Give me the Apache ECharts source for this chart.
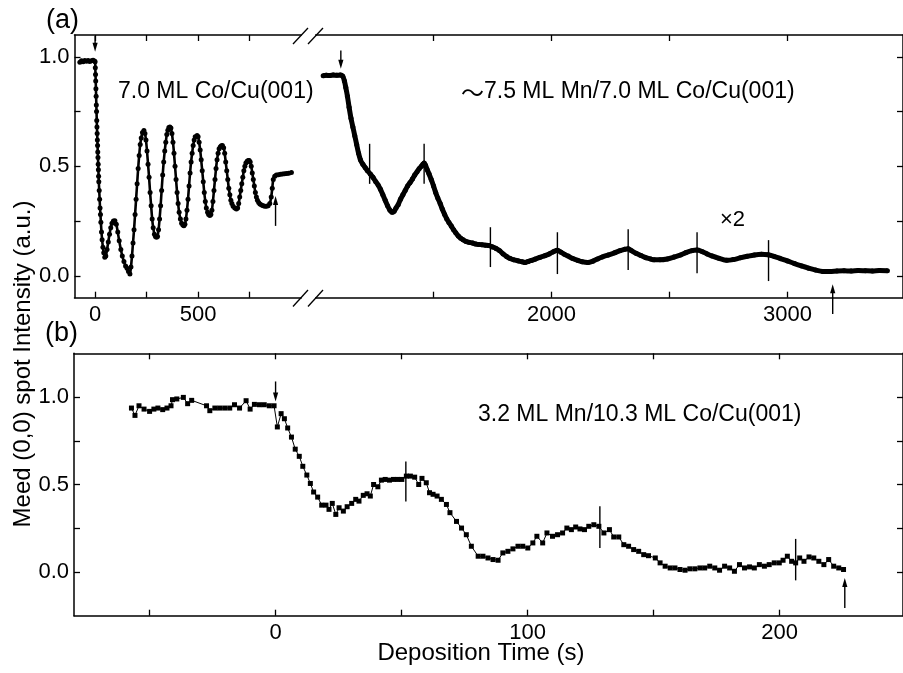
<!DOCTYPE html>
<html><head><meta charset="utf-8">
<script src="https://cdn.jsdelivr.net/npm/echarts@6/dist/echarts.min.js"></script>
<style>html,body{margin:0;padding:0;background:#fff}#c{width:903px;height:673px}</style>
</head><body><div id="c"></div>
<script>
// ---------- Panel (a), left part: 7.0 ML Co/Cu(001) ----------
const coTime = [-74,-66,-58,-50,-42,-34,-26,-18,-10,-3,0,1,2,3,4,5,6,7,8,9,10,11,12,13,14,15,16,17,18,20,22,24,26,28,31,34,38,42,47,
52,58,64,70,76,82,89,96,103,110,117,125,132,140,148,155,162,169,174,179,184,189,194,199,204,209,214,219,224,230,237,
242,247,252,257,262,267,272,277,282,288,293,298,303,308,313,318,323,328,333,338,343,348,353,358,363,
368,373,378,383,388,393,398,403,408,414,420,426,431,436,441,446,451,456,461,466,471,476,481,486,495,
500,505,510,515,520,525,530,535,540,546,551,557,562,567,572,577,582,587,592,597,602,608,613,618,
624,629,634,639,644,649,654,659,664,670,678,686,692,697,702,707,712,717,722,727,732,738,743,748,
753,758,763,768,773,778,783,788,794,800,808,816,824,832,840,848,855,860,865,872,880,890,900,910,920,930,940,953];
const coInt = [0.975,0.982,0.978,0.983,0.980,0.984,0.979,0.982,0.985,0.981,0.978,0.95,0.92,0.89,0.855,0.82,0.78,0.75,0.71,0.68,0.65,0.62,0.595,0.565,0.54,0.51,0.485,0.455,0.43,0.39,0.35,0.31,0.28,0.245,0.20,0.165,0.13,0.105,0.085,
0.09,0.12,0.155,0.19,0.22,0.24,0.25,0.252,0.235,0.20,0.16,0.12,0.09,0.065,0.045,0.035,0.02,0.008,0.04,0.09,0.15,0.21,0.28,0.35,0.42,0.49,0.55,0.60,0.63,0.655,0.664,
0.65,0.62,0.57,0.51,0.45,0.38,0.32,0.26,0.22,0.19,0.18,0.176,0.18,0.21,0.26,0.32,0.39,0.46,0.52,0.57,0.61,0.645,0.665,0.677,0.68,
0.675,0.65,0.61,0.56,0.50,0.44,0.38,0.33,0.29,0.26,0.24,0.232,0.229,0.235,0.26,0.30,0.35,0.41,0.47,0.52,0.56,0.595,0.62,0.635,0.641,
0.635,0.61,0.575,0.53,0.48,0.43,0.38,0.34,0.31,0.29,0.28,0.275,0.28,0.30,0.34,0.39,0.44,0.49,0.53,0.56,0.58,0.59,0.594,0.595,
0.585,0.56,0.52,0.48,0.44,0.40,0.37,0.345,0.33,0.318,0.31,0.305,0.31,0.33,0.36,0.39,0.42,0.45,0.48,0.50,0.515,0.523,0.527,0.527,
0.52,0.50,0.47,0.44,0.41,0.38,0.36,0.345,0.335,0.328,0.323,0.32,0.318,0.318,0.32,0.33,0.36,0.40,0.44,0.455,0.46,0.462,0.464,0.465,0.466,0.467,0.469,0.472];

// ---------- Panel (a), right part: ~7.5 ML Mn/7.0 ML Co/Cu(001) ----------
const mnTime = [1032,1045,1060,1075,1090,1105,1115,1122,1128,1135,1142,1150,1158,1166,1174,1182,1190,1200,1210,1220,1232,1243,1255,1265,1275,1285,1295,1305,1315,1324,1333,1341,1350,1360,1370,1380,1390,1400,1411,1420,1430,1439,1448,1455,1460,1466,1473,1481,1490,1500,1509,1518,1528,1537,1547,1556,1565,1575,1585,1594,1605,1615,1625,1638,1650,1665,1680,1692,1705,1720,1735,1750,1765,1780,1795,1810,1825,1840,1860,1875,1888,1900,1915,1930,1950,1972,1990,2008,2025,2040,2055,2070,2090,2112,2130,2154,2175,2195,2215,2240,2267,2290,2310,2325,2340,2360,2379,2400,2420,2435,2460,2491,2520,2547,2570,2595,2617,2640,2660,2680,2710,2743,2770,2800,2830,2860,2890,2918,2945,2970,3000,3030,3060,3090,3120,3150,3180,3210,3240,3270,3300,3330,3360,3390,3424];
const mnInt = [0.914,0.916,0.915,0.917,0.916,0.917,0.912,0.89,0.86,0.82,0.77,0.72,0.68,0.64,0.60,0.56,0.53,0.51,0.495,0.48,0.465,0.45,0.43,0.415,0.395,0.37,0.345,0.32,0.30,0.29,0.295,0.31,0.325,0.35,0.37,0.39,0.41,0.425,0.443,0.46,0.475,0.489,0.50,0.51,0.515,0.505,0.485,0.465,0.44,0.41,0.38,0.355,0.33,0.305,0.28,0.26,0.244,0.228,0.21,0.197,0.182,0.172,0.165,0.157,0.153,0.15,0.145,0.143,0.142,0.14,0.138,0.132,0.125,0.115,0.10,0.088,0.079,0.073,0.068,0.064,0.061,0.065,0.07,0.076,0.084,0.092,0.10,0.11,0.117,0.108,0.098,0.09,0.079,0.07,0.064,0.061,0.067,0.077,0.086,0.095,0.105,0.115,0.121,0.124,0.114,0.102,0.093,0.083,0.077,0.073,0.073,0.077,0.086,0.095,0.106,0.115,0.118,0.11,0.10,0.091,0.08,0.071,0.074,0.082,0.089,0.095,0.098,0.096,0.088,0.079,0.068,0.056,0.045,0.035,0.026,0.02,0.02,0.022,0.023,0.022,0.024,0.023,0.022,0.024,0.023];

// ---------- Panel (b): 3.2 ML Mn/10.3 ML Co/Cu(001) ----------
const bTime = [-57.2,-55.8,-54.2,-52.2,-50.0,-48.3,-46.7,-44.8,-43.1,-41.5,-40.9,-39.2,-36.6,-34.9,-33.3,-27.4,-26.1,-24.1,-22.2,-20.2,-18.2,-16.3,-14.3,-11.7,-10.1,-8.4,-6.4,-4.5,-2.5,-0.6,
0.7,2.2,3.5,4.8,6.3,7.8,9.4,10.8,12.4,13.8,15.1,16.7,18.3,20.0,21.2,22.5,23.9,25.2,26.9,28.4,30.2,31.8,33.1,34.8,36.3,37.6,38.9,40.6,42.0,43.5,45.2,46.8,48.5,50.1,51.9,53.5,55.2,56.8,58.1,59.8,61.1,62.5,64.1,65.8,67.8,
69.2,71.8,73.8,75.7,77.7,80.4,82.3,84.3,86.3,88.3,90.2,92.2,94.2,96.2,98.1,100.1,102.1,103.7,106.0,107.7,109.9,111.9,113.9,115.6,117.4,119.1,120.8,122.6,124.3,126.3,128.3,130.3,132.5,134.2,136.2,138.2,140.1,142.1,144.1,146.1,148.0,150.7,152.6,154.6,156.6,158.5,160.5,162.5,164.4,166.4,168.4,170.3,172.3,174.3,176.2,178.2,180.2,182.1,184.1,186.1,188.1,190.0,192.0,194.0,195.9,197.9,199.9,201.4,203.1,204.8,206.4,208.0,209.7,211.7,213.6,215.6,217.6,219.5,221.5,223.5,225.4];
const bInt = [0.937,0.895,0.950,0.931,0.918,0.931,0.937,0.928,0.937,0.950,0.985,0.989,0.998,0.962,0.981,0.950,0.922,0.937,0.937,0.937,0.937,0.956,0.937,0.979,0.931,0.958,0.956,0.956,0.950,0.950,
0.829,0.905,0.876,0.823,0.771,0.702,0.661,0.604,0.554,0.506,0.457,0.428,0.382,0.382,0.358,0.392,0.329,0.367,0.348,0.373,0.392,0.415,0.405,0.438,0.447,0.434,0.500,0.487,0.525,0.529,0.525,0.529,0.529,0.529,0.548,0.548,0.542,0.500,0.535,0.510,0.453,0.444,0.434,0.415,0.386,
0.339,0.289,0.251,0.213,0.147,0.090,0.090,0.080,0.071,0.067,0.109,0.118,0.132,0.147,0.147,0.137,0.166,0.204,0.166,0.223,0.204,0.213,0.223,0.251,0.242,0.257,0.246,0.242,0.261,0.270,0.261,0.223,0.242,0.200,0.200,0.156,0.147,0.128,0.118,0.099,0.093,0.080,0.052,0.033,0.023,0.023,0.014,0.010,0.018,0.018,0.023,0.023,0.033,0.023,0.010,0.033,0.023,0.004,0.042,0.023,0.029,0.023,0.042,0.033,0.042,0.052,0.052,0.067,0.090,0.061,0.052,0.080,0.061,0.086,0.080,0.061,0.042,0.071,0.033,0.023,0.014];

// ---------- Annotation marks: [time, from, to, isArrow] ----------
const aLeftMarks = [[0,1.097,1.024,1],[876,0.228,0.365,1]];
const aRightMarks = [[1107,1.029,0.946,1],[3192,-0.175,-0.038,1],[1229,0.42,0.603,0],[1460,0.42,0.603,0],[1741,0.04,0.222,0],[2025,0.008,0.199,0],[2325,0.026,0.213,0],[2617,0.012,0.199,0],[2920,-0.024,0.163,0]];
const bMarks = [[0,1.089,0.975,1],[51.7,0.403,0.632,0],[128.7,0.137,0.375,0],[206.4,-0.048,0.189,0],[225.9,-0.206,-0.034,1]];

// ---------- Ticks ----------
const aLeftTicks = [0,250,500,750], aLeftLabels = [0,500];
const aRightTicks = [1500,2000,2500,3000], aRightLabels = [2000,3000];
const aYTicks = [0,0.25,0.5,0.75,1.0], aYLabels = [0,0.5,1.0];
const bXTicks = [-50,0,50,100,150,200], bXLabels = [0,100,200];
const bYTicks = [0,0.25,0.5,0.75,1.0], bYLabels = [0,0.5,1.0];

const FONT = 'Liberation Sans, Arial, Helvetica, sans-serif';
const zip = (a,b) => a.map((v,i)=>[v,b[i]]);
const lineStyle = {color:'#000', width:1.5};

function xAx(grid, min, max, ticks, labels, pos){
  return {type:'value', gridIndex:grid, min, max, position:pos,
    axisLine:{show:true, onZero:false, lineStyle},
    axisTick:{show:true, inside:true, length:6, customValues:ticks, lineStyle:{color:'#000',width:1.3}},
    axisLabel:{show:!!labels, customValues:labels||[], color:'#000', fontFamily:FONT, fontSize:22, margin:6, formatter:v=>String(v)},
    splitLine:{show:false}};
}
function yAx(grid, min, max, ticks, labels, pos){
  return {type:'value', gridIndex:grid, min, max, position:pos,
    axisLine:{show:true, onZero:false, lineStyle},
    axisTick:{show:true, inside:true, length:6, customValues:ticks, lineStyle:{color:'#000',width:1.3}},
    axisLabel:{show:!!labels, customValues:labels||[], color:'#000', fontFamily:FONT, fontSize:22, margin:5, formatter:v=>v.toFixed(1)},
    splitLine:{show:false}};
}
function renderMark(params, api){
  const x = api.value(0), y1 = api.value(1), y2 = api.value(2), arrow = api.value(3);
  const p1 = api.coord([x,y1]), p2 = api.coord([x,y2]);
  const dir = p2[1] > p1[1] ? 1 : -1;
  const hl = 9, hw = 2.6;
  const ch = [{type:'line', shape:{x1:p1[0],y1:p1[1],x2:p2[0],y2: arrow ? p2[1]-dir*hl*0.7 : p2[1]}, style:{stroke:'#000', lineWidth:1.4}}];
  if (arrow) ch.push({type:'polygon', shape:{points:[[p2[0],p2[1]],[p2[0]-hw,p2[1]-dir*hl],[p2[0]+hw,p2[1]-dir*hl]]}, style:{fill:'#000'}});
  return {type:'group', children:ch};
}
function markSeries(data, xi, yi){
  return {type:'custom', xAxisIndex:xi, yAxisIndex:yi, clip:false, silent:true, z:5,
    dimensions:['x','a','b','arrow'], encode:{x:0, y:[1,2]}, renderItem:renderMark, data};
}

const chart = echarts.init(document.getElementById('c'), null, {renderer:'canvas'});
const txt = (text, x, y, size, extra) => Object.assign({type:'text', x, y, style:Object.assign({text, fontFamily:FONT, fontSize:size, fill:'#000', textVerticalAlign:'middle'}, extra||{})});
const slash = (x1,y1,x2,y2) => ({type:'line', shape:{x1,y1,x2,y2}, style:{stroke:'#000', lineWidth:1.3}});

chart.setOption({
  animation:false,
  backgroundColor:'#fff',
  grid:[
    {left:74.5, top:35, width:226.6, height:262.7},
    {left:315.6, top:35, width:592.4, height:262.7},
    {left:74, top:353.3, width:834, height:262.4}
  ],
  xAxis:[
    xAx(0,-100,1000,aLeftTicks,aLeftLabels,'bottom'),
    xAx(0,-100,1000,aLeftTicks,null,'top'),
    xAx(1,1000,3490,aRightTicks,aRightLabels,'bottom'),
    xAx(1,1000,3490,aRightTicks,null,'top'),
    xAx(2,-80,249,bXTicks,bXLabels,'bottom'),
    xAx(2,-80,249,bXTicks,null,'top')
  ],
  yAxis:[
    yAx(0,-0.1,1.1,aYTicks,aYLabels,'left'),
    yAx(1,-0.1,1.1,aYTicks,null,'right'),
    yAx(2,-0.25,1.25,bYTicks,bYLabels,'left'),
    yAx(2,-0.25,1.25,bYTicks,null,'right')
  ],
  series:[
    {type:'line', xAxisIndex:0, yAxisIndex:0, data:zip(coTime,coInt), smooth:0.3, symbol:'circle', symbolSize:5,
      lineStyle:{color:'#000', width:2.6}, itemStyle:{color:'#000'}},
    {type:'line', xAxisIndex:2, yAxisIndex:1, data:zip(mnTime,mnInt), smooth:0.3, symbol:'circle', symbolSize:5,
      lineStyle:{color:'#000', width:5}, itemStyle:{color:'#000'}},
    {type:'line', xAxisIndex:4, yAxisIndex:2, data:zip(bTime,bInt), symbol:'rect', symbolSize:5,
      lineStyle:{color:'#000', width:1}, itemStyle:{color:'#000'}},
    markSeries(aLeftMarks,0,0),
    markSeries(aRightMarks,2,1),
    markSeries(bMarks,4,2)
  ],
  graphic:[
    slash(293,44,308,28), slash(308,44,323,28),
    slash(293,306.5,308,290), slash(308,306.5,323,290),
    txt('(a)', 46, 21, 27),
    txt('(b)', 45, 334, 27),
    txt('7.0 ML Co/Cu(001)', 118, 92, 23),
    txt('{t|\uFF5E}7.5 ML Mn/7.0 ML Co/Cu(001)', 461, 92, 23, {rich:{t:{fontFamily:'Noto Sans CJK SC', fontSize:23, fill:'#000'}}}),
    txt('\u00D72', 720, 220, 22),
    txt('3.2 ML Mn/10.3 ML Co/Cu(001)', 478, 415, 23),
    txt('Deposition Time (s)', 481, 653, 24, {textAlign:'center'}),
    {type:'text', x:23, y:364, rotation:Math.PI/2, style:{text:'Meed (0,0) spot Intensity (a.u.)', fontFamily:FONT, fontSize:24, fill:'#000', textAlign:'center', textVerticalAlign:'middle'}}
  ]
});
</script></body></html>
